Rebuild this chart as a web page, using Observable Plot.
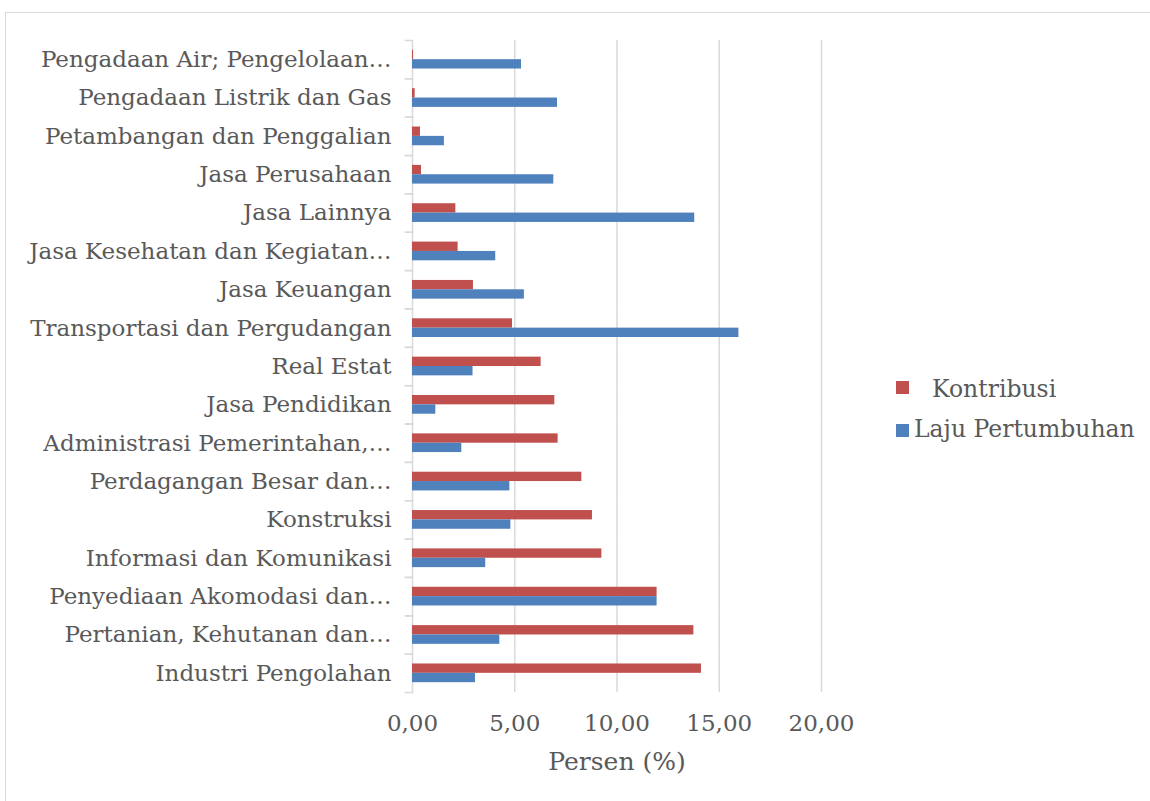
<!DOCTYPE html>
<html>
<head>
<meta charset="utf-8">
<script src="https://cdn.jsdelivr.net/npm/d3@7"></script>
<script src="https://cdn.jsdelivr.net/npm/@observablehq/plot@0.6"></script>
<style>
  html, body { margin: 0; padding: 0; background: #fff; }
  #wrap { position: relative; width: 1150px; height: 801px; overflow: hidden; font-family: "DejaVu Serif", serif; color: #595959; }
  #border { position: absolute; left: 5px; top: 12px; right: -10px; bottom: -10px; border: 1.5px solid #d9d9d9; }
  #chart { position: absolute; left: 0; top: 0; }
  .leg { position: absolute; font-size: 23.5px; line-height: 1; white-space: nowrap; }
  .sw { position: absolute; width: 13px; height: 13px; }
</style>
</head>
<body>
<div id="wrap">
  <div id="border"></div>
  <div id="chart"></div>
  <div id="legend"></div>
</div>
<script>
// Categories listed top to bottom
const categories = [
  "Pengadaan Air; Pengelolaan…",
  "Pengadaan Listrik dan Gas",
  "Petambangan dan Penggalian",
  "Jasa Perusahaan",
  "Jasa Lainnya",
  "Jasa Kesehatan dan Kegiatan…",
  "Jasa Keuangan",
  "Transportasi dan Pergudangan",
  "Real Estat",
  "Jasa Pendidikan",
  "Administrasi Pemerintahan,…",
  "Perdagangan Besar dan…",
  "Konstruksi",
  "Informasi dan Komunikasi",
  "Penyediaan Akomodasi dan…",
  "Pertanian, Kehutanan dan…",
  "Industri Pengolahan"
];
const kontribusi = [0.05, 0.13, 0.39, 0.44, 2.12, 2.23, 2.98, 4.89, 6.29, 6.96, 7.12, 8.28, 8.80, 9.26, 11.96, 13.76, 14.13];
const laju       = [5.33, 7.09, 1.56, 6.91, 13.80, 4.07, 5.47, 15.96, 2.96, 1.14, 2.41, 4.76, 4.81, 3.58, 11.96, 4.27, 3.08];
const seriesNames = ["Kontribusi", "Laju Pertumbuhan"];
const seriesColors = ["#c0504d", "#4f81bd"];
const xTicks = [0, 5, 10, 15, 20];
const xLabel = "Persen (%)";

const data = categories.flatMap((c, i) => [
  {category: c, series: seriesNames[0], value: kontribusi[i]},
  {category: c, series: seriesNames[1], value: laju[i]}
]);

const fmt = d => d.toFixed(2).replace(".", ",");

const chart = Plot.plot({
  width: 1150,
  height: 801,
  marginLeft: 412,
  marginRight: 329,
  marginTop: 40,
  marginBottom: 109,
  style: {fontFamily: "DejaVu Serif, serif", fontSize: "23px", color: "#595959", background: "transparent", overflow: "visible"},
  x: {domain: [0, 20], axis: null},
  fy: {domain: categories, padding: 0, axis: null, round: false},
  y: {domain: seriesNames, paddingInner: 0, paddingOuter: 1.05, axis: null, round: false},
  color: {domain: seriesNames, range: seriesColors},
  marks: [
    Plot.gridX({ticks: xTicks.slice(1), stroke: "#d9d9d9", strokeOpacity: 1, strokeWidth: 1.5}),
    Plot.frame({anchor: "top", stroke: "#d9d9d9", strokeWidth: 1.5, insetLeft: -7, insetRight: 409}),
    Plot.frame({anchor: "bottom", stroke: "#d9d9d9", strokeWidth: 1.5, insetLeft: -7, insetRight: 409}),
    Plot.ruleX([0], {stroke: "#d9d9d9", strokeWidth: 1.5}),
    Plot.barX(data, {fy: "category", y: "series", x: "value", fill: "series"}),
    Plot.axisFy({anchor: "left", tickSize: 0, tickPadding: 21, label: null, fontSize: 23, fill: "#595959"}),
    Plot.axisX({ticks: xTicks, tickSize: 0, tickPadding: 22, tickFormat: fmt, fontSize: 23, fill: "#595959", label: null}),
    Plot.axisX({ticks: [], tickSize: 0, label: xLabel, labelAnchor: "center", labelArrow: "none", labelOffset: 77, fontSize: 25, fill: "#595959"})
  ]
});
document.getElementById("chart").appendChild(chart);

// Legend
const legend = document.getElementById("legend");
const legendItems = [
  {name: seriesNames[0], color: seriesColors[0], swTop: 381, textLeft: 932, textTop: 378},
  {name: seriesNames[1], color: seriesColors[1], swTop: 424, textLeft: 914, textTop: 418}
];
legendItems.forEach(it => {
  const sw = document.createElement("div");
  sw.className = "sw";
  sw.style.left = "896px";
  sw.style.top = it.swTop + "px";
  sw.style.background = it.color;
  legend.appendChild(sw);
  const t = document.createElement("div");
  t.className = "leg";
  t.style.left = it.textLeft + "px";
  t.style.top = it.textTop + "px";
  t.textContent = it.name;
  legend.appendChild(t);
});
</script>
</body>
</html>
